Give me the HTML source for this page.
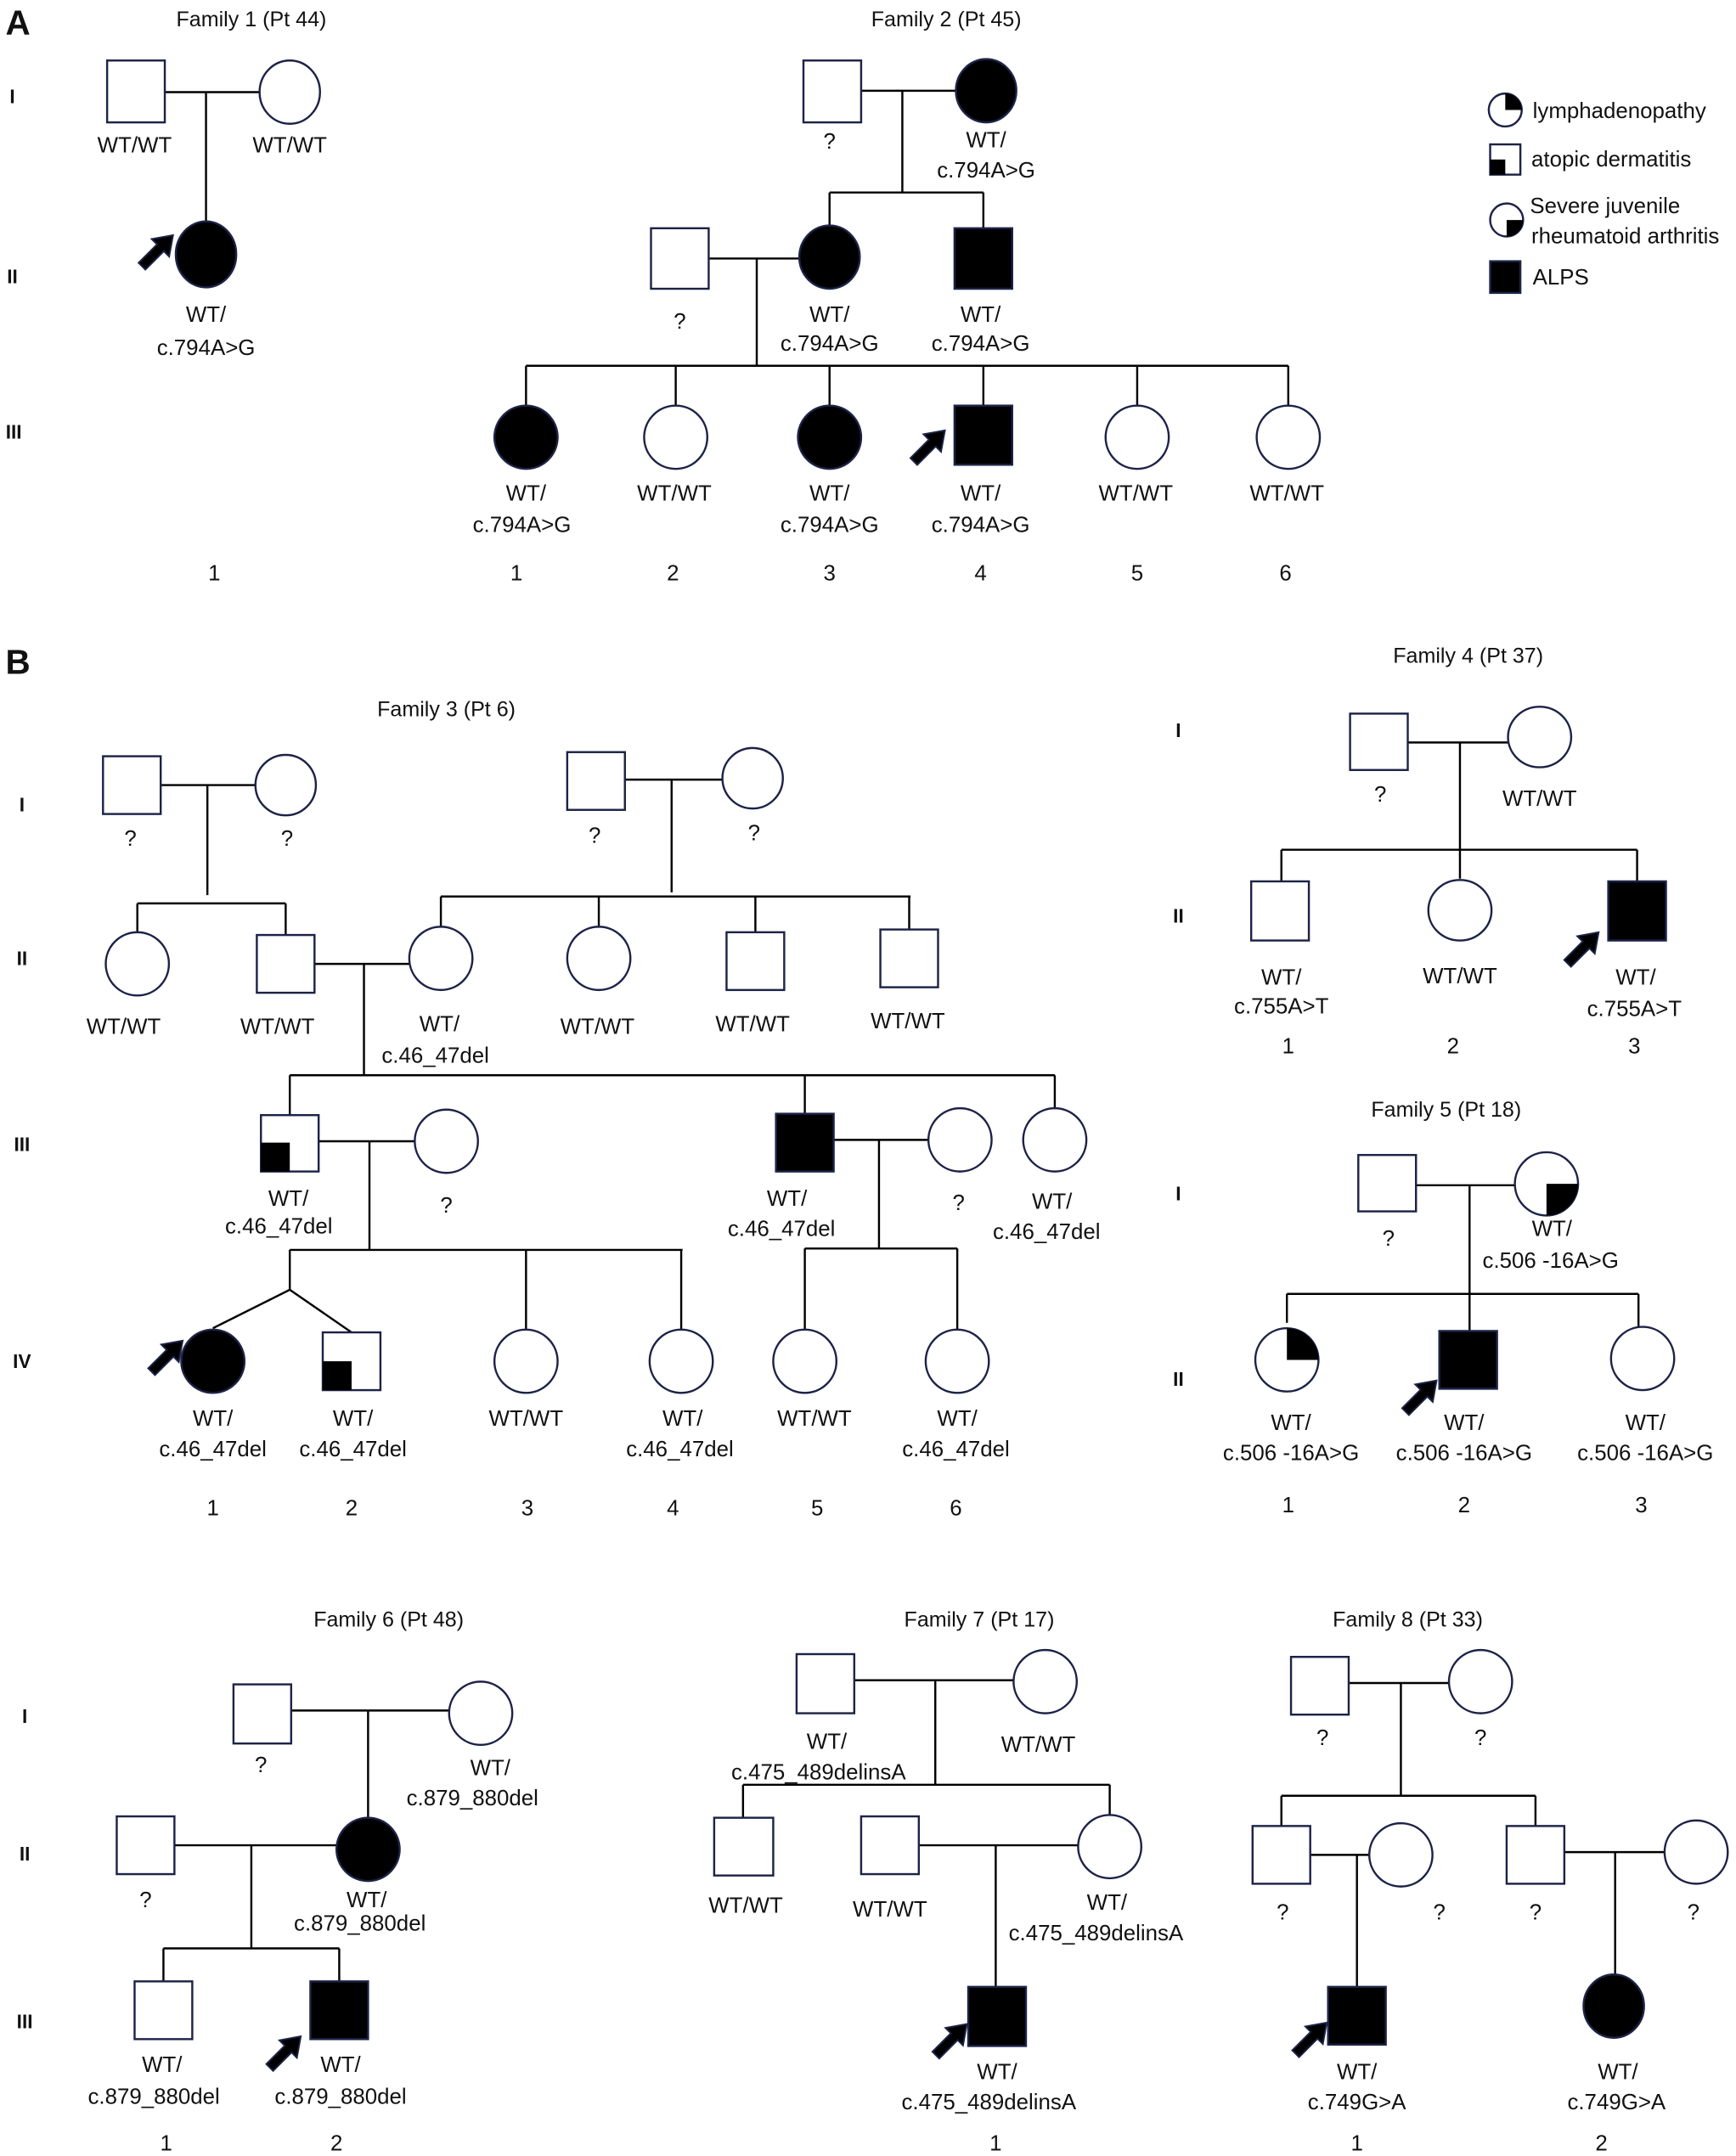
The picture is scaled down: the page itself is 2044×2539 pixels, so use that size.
<!DOCTYPE html>
<html><head><meta charset="utf-8"><style>
html,body{margin:0;padding:0;background:#fff}
svg{display:block}
text{font-family:"Liberation Sans",Arial,sans-serif;font-size:16px;fill:#111;text-anchor:middle}
.t{font-size:15.5px}
.g{font-weight:bold;font-size:14px}
.L{font-weight:bold;font-size:25px;text-anchor:start}
.lg{text-anchor:start}
.s{fill:#fff;stroke:#1c2347;stroke-width:1.5}
.f{fill:#000;stroke:#1c2347;stroke-width:1.5}
.ln{stroke:#000;stroke-width:1.5;fill:none}
.ar{fill:#000;stroke:#1c2347;stroke-width:1.2}
</style></head><body>
<svg width="2044" height="2539" viewBox="0 0 1264 1568" preserveAspectRatio="none" xmlns="http://www.w3.org/2000/svg">
<defs>
<polygon id="arw" points="0,0 -13,-9 -13,-3.5 -32,-3.5 -32,3.5 -13,3.5 -13,9" transform="rotate(-45)"/>
</defs>

<!-- Panel A -->
<text class="L" x="4" y="25">A</text>
<text class="t" x="183" y="19">Family 1 (Pt 44)</text>
<text class="t" x="689" y="19">Family 2 (Pt 45)</text>
<text class="g" x="9" y="75">I</text>
<text class="g" x="9" y="206">II</text>
<text class="g" x="10" y="319">III</text>

<!-- Family 1 -->
<path class="ln" d="M120 67H189 M150 67V163"/>
<rect class="s" x="78" y="44" width="42" height="45"/>
<ellipse class="s" cx="211" cy="67" rx="22" ry="23"/>
<ellipse class="f" cx="150" cy="185" rx="22" ry="24"/>
<text x="98" y="111">WT/WT</text>
<text x="211" y="111">WT/WT</text>
<text x="150" y="234">WT/</text>
<text x="150" y="258">c.794A&gt;G</text>
<text x="156" y="422">1</text>
<use href="#arw" class="ar" transform="translate(126,171)"/>

<!-- Family 2 -->
<path class="ln" d="M627 66H696 M657 66V140 M604 140H716 M604 140V164 M716 140V166 M516 188H582 M551 188V266 M383 266H938 M383 266V295 M492 266V295 M604 266V295 M716 266V295 M828 266V295 M938 266V295"/>
<rect class="s" x="585" y="44" width="42" height="45"/>
<ellipse class="f" cx="718" cy="66" rx="22" ry="23"/>
<text x="604" y="108">?</text>
<text x="718" y="107">WT/</text>
<text x="718" y="129">c.794A&gt;G</text>
<rect class="s" x="474" y="166" width="42" height="44"/>
<ellipse class="f" cx="604" cy="187" rx="22" ry="23"/>
<rect class="f" x="695" y="166" width="42" height="44"/>
<text x="495" y="239">?</text>
<text x="604" y="234">WT/</text>
<text x="604" y="255">c.794A&gt;G</text>
<text x="714" y="234">WT/</text>
<text x="714" y="255">c.794A&gt;G</text>
<ellipse class="f" cx="383" cy="318" rx="23" ry="23"/>
<ellipse class="s" cx="492" cy="318" rx="23" ry="23"/>
<ellipse class="f" cx="604" cy="318" rx="23" ry="23"/>
<rect class="f" x="695" y="295" width="42" height="43"/>
<ellipse class="s" cx="828" cy="318" rx="23" ry="23"/>
<ellipse class="s" cx="938" cy="318" rx="23" ry="23"/>
<use href="#arw" class="ar" transform="translate(688,313)"/>
<text x="383" y="364">WT/</text><text x="380" y="387">c.794A&gt;G</text>
<text x="491" y="364">WT/WT</text>
<text x="604" y="364">WT/</text><text x="604" y="387">c.794A&gt;G</text>
<text x="714" y="364">WT/</text><text x="714" y="387">c.794A&gt;G</text>
<text x="827" y="364">WT/WT</text>
<text x="937" y="364">WT/WT</text>
<text x="376" y="422">1</text><text x="490" y="422">2</text><text x="604" y="422">3</text><text x="714" y="422">4</text><text x="828" y="422">5</text><text x="936" y="422">6</text>

<!-- Legend -->
<ellipse class="s" cx="1096" cy="80" rx="12" ry="12"/>
<path d="M1096 80V68A12 12 0 0 1 1108 80Z" fill="#000"/>
<text class="lg" x="1116" y="86">lymphadenopathy</text>
<rect class="s" x="1085" y="105" width="22" height="22"/>
<rect x="1085" y="116" width="11" height="11" fill="#000"/>
<text class="lg" x="1115" y="121">atopic dermatitis</text>
<ellipse class="s" cx="1097" cy="160" rx="12" ry="12"/>
<path d="M1097 160H1109A12 12 0 0 1 1097 172Z" fill="#000"/>
<text class="lg" x="1114" y="155">Severe juvenile</text>
<text class="lg" x="1115" y="177">rheumatoid arthritis</text>
<rect class="f" x="1085" y="190" width="22" height="23"/>
<text class="lg" x="1116" y="207">ALPS</text>

<!-- Panel B -->
<text class="L" x="4" y="490">B</text>
<text class="t" x="325" y="521">Family 3 (Pt 6)</text>
<text class="g" x="16" y="590">I</text>
<text class="g" x="16" y="702">II</text>
<text class="g" x="16" y="837">III</text>
<text class="g" x="16" y="995">IV</text>

<!-- Family 3 -->
<path class="ln" d="M117 571H186 M151 571V651 M100 657H208 M100 657V678 M208 657V680
M455 567H526 M489 567V649 M321 652H663 M321 652V674 M436 652V674 M550 652V678 M662 652V676
M229 701H299 M265 701V782 M211 782H768 M211 782V811 M586 782V810 M768 782V806
M232 830H303 M269 830V909 M211 909H497 M211 909V938 L155 966 M211 938L256 969 M383 909V967 M496 909V967
M607 829H677 M640 829V908 M586 908H697 M586 908V967 M697 908V967"/>
<rect class="s" x="75" y="550" width="42" height="42"/>
<ellipse class="s" cx="208" cy="571" rx="22" ry="22"/>
<text x="95" y="615">?</text><text x="209" y="615">?</text>
<rect class="s" x="413" y="547" width="42" height="42"/>
<ellipse class="s" cx="548" cy="566" rx="22" ry="22"/>
<text x="433" y="613">?</text><text x="549" y="611">?</text>
<ellipse class="s" cx="100" cy="701" rx="23" ry="23"/>
<rect class="s" x="187" y="680" width="42" height="42"/>
<ellipse class="s" cx="321" cy="697" rx="23" ry="23"/>
<ellipse class="s" cx="436" cy="697" rx="23" ry="23"/>
<rect class="s" x="529" y="678" width="42" height="42"/>
<rect class="s" x="641" y="676" width="42" height="42"/>
<text x="90" y="752">WT/WT</text><text x="202" y="752">WT/WT</text>
<text x="320" y="750">WT/</text><text x="317" y="773">c.46_47del</text>
<text x="435" y="752">WT/WT</text><text x="548" y="750">WT/WT</text><text x="661" y="748">WT/WT</text>
<rect class="s" x="190" y="811" width="42" height="41"/>
<rect x="190" y="831" width="21" height="21" fill="#000"/>
<ellipse class="s" cx="325" cy="830" rx="23" ry="23"/>
<rect class="f" x="565" y="810" width="42" height="42"/>
<ellipse class="s" cx="699" cy="829" rx="23" ry="23"/>
<ellipse class="s" cx="768" cy="829" rx="23" ry="23"/>
<text x="210" y="877">WT/</text><text x="203" y="897">c.46_47del</text>
<text x="325" y="882">?</text>
<text x="573" y="877">WT/</text><text x="569" y="899">c.46_47del</text>
<text x="698" y="880">?</text>
<text x="766" y="879">WT/</text><text x="762" y="901">c.46_47del</text>
<ellipse class="f" cx="155" cy="990" rx="23" ry="23"/>
<rect class="s" x="235" y="969" width="42" height="42"/>
<rect x="235" y="990" width="21" height="21" fill="#000"/>
<ellipse class="s" cx="383" cy="990" rx="23" ry="23"/>
<ellipse class="s" cx="496" cy="990" rx="23" ry="23"/>
<ellipse class="s" cx="586" cy="990" rx="23" ry="23"/>
<ellipse class="s" cx="697" cy="990" rx="23" ry="23"/>
<use href="#arw" class="ar" transform="translate(133,975)"/>
<text x="155" y="1037">WT/</text><text x="155" y="1059">c.46_47del</text>
<text x="257" y="1037">WT/</text><text x="257" y="1059">c.46_47del</text>
<text x="383" y="1037">WT/WT</text>
<text x="497" y="1037">WT/</text><text x="495" y="1059">c.46_47del</text>
<text x="593" y="1037">WT/WT</text>
<text x="697" y="1037">WT/</text><text x="696" y="1059">c.46_47del</text>
<text x="155" y="1102">1</text><text x="256" y="1102">2</text><text x="384" y="1102">3</text><text x="490" y="1102">4</text><text x="595" y="1102">5</text><text x="696" y="1102">6</text>

<!-- Family 4 -->
<text class="t" x="1069" y="482">Family 4 (Pt 37)</text>
<text class="g" x="858" y="536">I</text>
<text class="g" x="858" y="671">II</text>
<path class="ln" d="M1025 540H1099 M1063 540V618 M933 618H1192 M933 618V641 M1063 618V639 M1192 618V641"/>
<rect class="s" x="983" y="519" width="42" height="41"/>
<ellipse class="s" cx="1121" cy="536" rx="23" ry="22"/>
<text x="1005" y="583">?</text><text x="1121" y="586">WT/WT</text>
<rect class="s" x="911" y="641" width="42" height="43"/>
<ellipse class="s" cx="1063" cy="662" rx="23" ry="22"/>
<rect class="f" x="1171" y="641" width="42" height="43"/>
<use href="#arw" class="ar" transform="translate(1164,678)"/>
<text x="933" y="716">WT/</text><text x="933" y="737">c.755A&gt;T</text>
<text x="1063" y="715">WT/WT</text>
<text x="1191" y="716">WT/</text><text x="1190" y="739">c.755A&gt;T</text>
<text x="938" y="766">1</text><text x="1058" y="766">2</text><text x="1190" y="766">3</text>

<!-- Family 5 -->
<text class="t" x="1053" y="812">Family 5 (Pt 18)</text>
<text class="g" x="858" y="873">I</text>
<text class="g" x="858" y="1008">II</text>
<path class="ln" d="M1031 862H1104 M1070 862V941 M937 941H1193 M937 941V962 M1070 941V968 M1193 941V966"/>
<rect class="s" x="989" y="840" width="42" height="41"/>
<ellipse class="s" cx="1126" cy="861" rx="23" ry="23"/>
<path d="M1126 861H1149A23 23 0 0 1 1126 884Z" fill="#000"/>
<text x="1011" y="906">?</text>
<text x="1130" y="899">WT/</text><text x="1129" y="922">c.506 -16A&gt;G</text>
<ellipse class="s" cx="937" cy="989" rx="23" ry="23"/>
<path d="M937 989V966A23 23 0 0 1 960 989Z" fill="#000"/>
<rect class="f" x="1048" y="968" width="42" height="42"/>
<ellipse class="s" cx="1196" cy="988" rx="23" ry="23"/>
<use href="#arw" class="ar" transform="translate(1046,1004)"/>
<text x="940" y="1040">WT/</text><text x="940" y="1062">c.506 -16A&gt;G</text>
<text x="1066" y="1040">WT/</text><text x="1066" y="1062">c.506 -16A&gt;G</text>
<text x="1198" y="1040">WT/</text><text x="1198" y="1062">c.506 -16A&gt;G</text>
<text x="938" y="1100">1</text><text x="1066" y="1100">2</text><text x="1195" y="1100">3</text>

<!-- Family 6 -->
<text class="t" x="283" y="1183">Family 6 (Pt 48)</text>
<text class="g" x="18" y="1253">I</text>
<text class="g" x="18" y="1353">II</text>
<text class="g" x="18" y="1475">III</text>
<path class="ln" d="M212 1244H328 M268 1244V1322 M127 1342H246 M183 1342V1417 M119 1417H247 M119 1417V1441 M247 1417V1441"/>
<rect class="s" x="170" y="1225" width="42" height="43"/>
<ellipse class="s" cx="350" cy="1246" rx="23" ry="23"/>
<text x="190" y="1289">?</text>
<text x="357" y="1291">WT/</text><text x="344" y="1313">c.879_880del</text>
<rect class="s" x="85" y="1321" width="42" height="42"/>
<ellipse class="f" cx="268" cy="1345" rx="23" ry="23"/>
<text x="106" y="1387">?</text>
<text x="267" y="1387">WT/</text><text x="262" y="1404">c.879_880del</text>
<rect class="s" x="98" y="1441" width="42" height="42"/>
<rect class="f" x="226" y="1441" width="42" height="42"/>
<use href="#arw" class="ar" transform="translate(219,1481)"/>
<text x="118" y="1507">WT/</text><text x="112" y="1530">c.879_880del</text>
<text x="248" y="1507">WT/</text><text x="248" y="1530">c.879_880del</text>
<text x="121" y="1564">1</text><text x="245" y="1564">2</text>

<!-- Family 7 -->
<text class="t" x="713" y="1183">Family 7 (Pt 17)</text>
<path class="ln" d="M622 1222H739 M681 1222V1298 M541 1298H808 M541 1298V1322 M808 1298V1320 M669 1342H786 M725 1342V1445"/>
<rect class="s" x="580" y="1203" width="42" height="43"/>
<ellipse class="s" cx="761" cy="1223" rx="23" ry="23"/>
<text x="602" y="1272">WT/</text><text x="596" y="1294">c.475_489delinsA</text>
<text x="756" y="1274">WT/WT</text>
<rect class="s" x="520" y="1322" width="43" height="42"/>
<rect class="s" x="627" y="1321" width="42" height="42"/>
<ellipse class="s" cx="808" cy="1343" rx="23" ry="23"/>
<text x="543" y="1391">WT/WT</text><text x="648" y="1394">WT/WT</text>
<text x="806" y="1389">WT/</text><text x="798" y="1411">c.475_489delinsA</text>
<rect class="f" x="705" y="1445" width="42" height="43"/>
<use href="#arw" class="ar" transform="translate(704,1472)"/>
<text x="726" y="1512">WT/</text><text x="720" y="1534">c.475_489delinsA</text>
<text x="725" y="1564">1</text>

<!-- Family 8 -->
<text class="t" x="1025" y="1183">Family 8 (Pt 33)</text>
<path class="ln" d="M982 1224H1056 M1020 1224V1306 M933 1306H1118 M933 1306V1328 M1118 1306V1328 M954 1349H998 M988 1349V1445 M1139 1347H1213 M1176 1347V1437"/>
<rect class="s" x="940" y="1205" width="42" height="42"/>
<ellipse class="s" cx="1078" cy="1223" rx="23" ry="23"/>
<text x="963" y="1269">?</text><text x="1078" y="1269">?</text>
<rect class="s" x="912" y="1328" width="42" height="42"/>
<ellipse class="s" cx="1020" cy="1349" rx="23" ry="23"/>
<rect class="s" x="1097" y="1328" width="42" height="42"/>
<ellipse class="s" cx="1235" cy="1347" rx="23" ry="23"/>
<text x="934" y="1396">?</text><text x="1048" y="1396">?</text><text x="1118" y="1396">?</text><text x="1233" y="1396">?</text>
<rect class="f" x="967" y="1445" width="42" height="42"/>
<ellipse class="f" cx="1175" cy="1459" rx="22" ry="23"/>
<use href="#arw" class="ar" transform="translate(966,1471)"/>
<text x="988" y="1512">WT/</text><text x="988" y="1534">c.749G&gt;A</text>
<text x="1178" y="1512">WT/</text><text x="1177" y="1534">c.749G&gt;A</text>
<text x="988" y="1564">1</text><text x="1166" y="1564">2</text>
</svg>
</body></html>
